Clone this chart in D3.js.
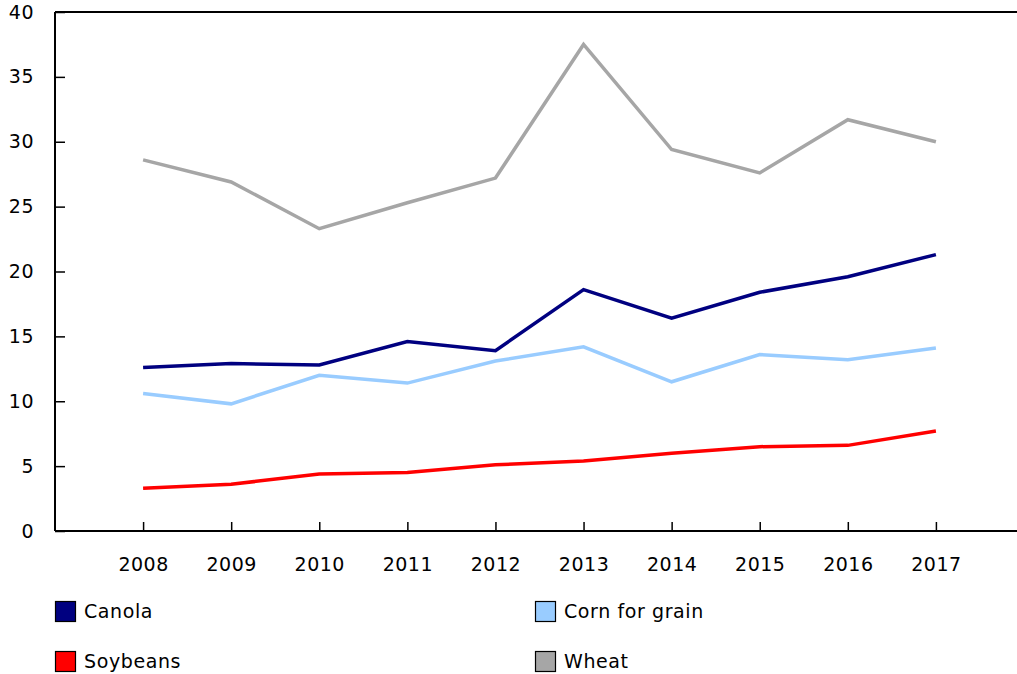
<!DOCTYPE html>
<html>
<head>
<meta charset="utf-8">
<script src="https://cdn.jsdelivr.net/npm/d3@7"></script>
<style>
	body { margin: 0; background: #fff; }
	svg { display: block; font-family: "DejaVu Sans", Verdana, sans-serif; }
</style>
</head>
<body>
<div class="chart"></div>
<script>
const years = ["2008", "2009", "2010", "2011", "2012", "2013", "2014", "2015", "2016", "2017"]
const canola = [12.6, 12.9, 12.8, 14.6, 13.9, 18.6, 16.4, 18.4, 19.6, 21.3]
const corn = [10.6, 9.8, 12.0, 11.4, 13.1, 14.2, 11.5, 13.6, 13.2, 14.1]
const soybeans = [3.3, 3.6, 4.4, 4.5, 5.1, 5.4, 6.0, 6.5, 6.6, 7.7]
const wheat = [28.6, 26.9, 23.3, 25.3, 27.2, 37.5, 29.4, 27.6, 31.7, 30.0]
const yTicks = [0, 5, 10, 15, 20, 25, 30, 35, 40]

const series = [
	{name: "Canola", values: canola, color: "#000080"},
	{name: "Corn for grain", values: corn, color: "#99ccff"},
	{name: "Soybeans", values: soybeans, color: "#ff0000"},
	{name: "Wheat", values: wheat, color: "#a6a6a6"}
]

const W = 1017, H = 674
const plotLeft = 55, plotTop = 12, plotBottom = 531

const xScale = d3.scalePoint()
	.domain(years)
	.range([plotLeft, 1024])
	.padding(1)

const yScale = d3.scaleLinear()
	.domain([0, 40])
	.range([plotBottom, plotTop])

const svg = d3.select(".chart")
	.append("svg")
	.attr("width", W)
	.attr("height", H)

// x axis, ticks pointing up into the plot
const xAxis = svg.append("g")
	.attr("transform", "translate(0," + plotBottom + ")")
	.call(d3.axisBottom(xScale).tickSize(-9).tickPadding(19))
xAxis.select(".domain").attr("d", "M" + plotLeft + ",0H" + W)
xAxis.selectAll("line").attr("stroke-width", 1.5)
xAxis.selectAll("text")
	.attr("font-size", "19px")
	.attr("letter-spacing", "0.5px")
	.attr("fill", "#000")
	.attr("font-family", "DejaVu Sans, Verdana, sans-serif")
	.attr("dy", "1.1em")

// y axis, ticks pointing right
const yAxis = svg.append("g")
	.attr("transform", "translate(" + plotLeft + ",0)")
	.call(d3.axisLeft(yScale).tickValues(yTicks).tickSize(-10).tickPadding(21))
yAxis.select(".domain").attr("d", "M0," + plotTop + "V" + plotBottom)
yAxis.selectAll("line").attr("stroke-width", 1.5)
yAxis.selectAll("text")
	.attr("font-size", "19px")
	.attr("letter-spacing", "0.5px")
	.attr("fill", "#000")
	.attr("font-family", "DejaVu Sans, Verdana, sans-serif")

svg.selectAll(".domain").attr("stroke", "#000").attr("stroke-width", 2)

// top border
svg.append("line")
	.attr("x1", plotLeft).attr("x2", W)
	.attr("y1", plotTop).attr("y2", plotTop)
	.attr("stroke", "#000")
	.attr("stroke-width", 2)

const line = d3.line()
	.x(function(d, i){return xScale(years[i])})
	.y(function(d){return yScale(d)})

svg.selectAll(".series")
	.data(series)
	.enter()
	.append("path")
	.attr("class", "series")
	.attr("d", function(d){return line(d.values)})
	.attr("fill", "none")
	.attr("stroke", function(d){return d.color})
	.attr("stroke-width", 3.5)

// legend
const legend = svg.selectAll(".legend")
	.data(series)
	.enter()
	.append("g")
	.attr("class", "legend")
	.attr("transform", function(d, i){
		return "translate(" + (i % 2 === 0 ? 55 : 535) + "," + (i < 2 ? 601 : 651) + ")"
	})

legend.append("rect")
	.attr("x", 0.5).attr("y", 0.5)
	.attr("width", 20).attr("height", 20)
	.attr("fill", function(d){return d.color})
	.attr("stroke", "#000")
	.attr("stroke-width", 1.2)

legend.append("text")
	.attr("x", 29)
	.attr("y", 17)
	.attr("font-size", "19px")
	.attr("letter-spacing", "0.6px")
	.text(function(d){return d.name})
</script>
</body>
</html>
